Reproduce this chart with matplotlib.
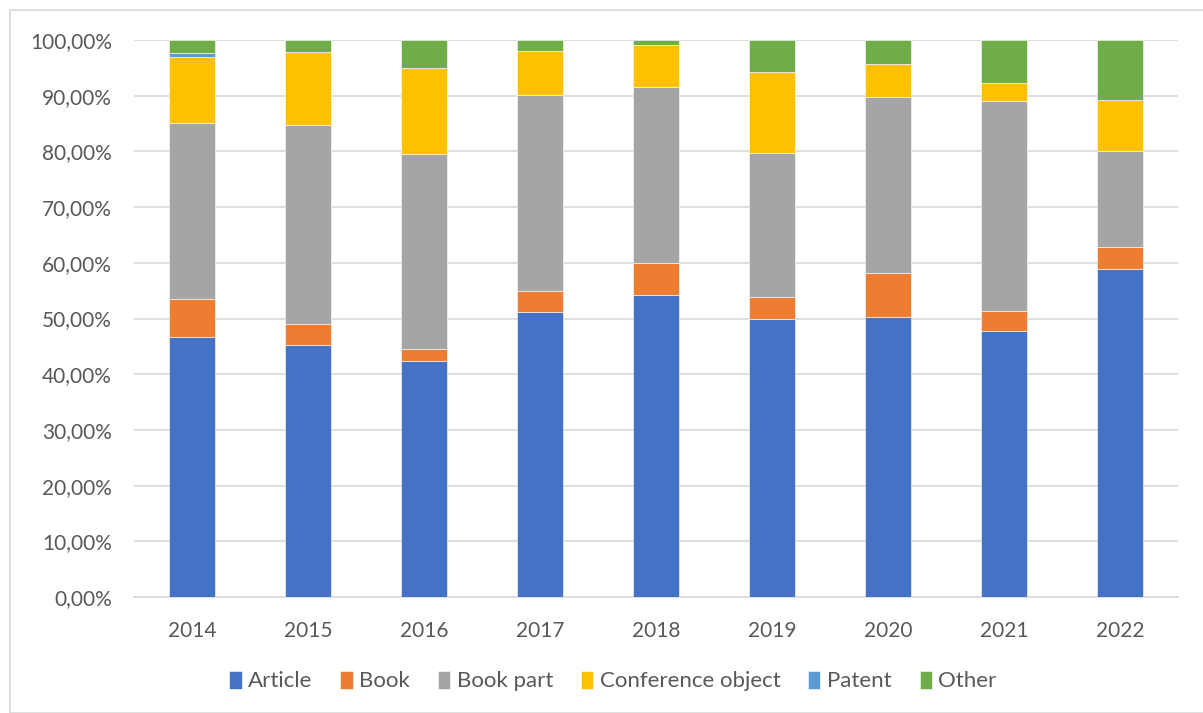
import matplotlib
matplotlib.use("Agg")
import matplotlib.pyplot as plt
from matplotlib.patches import Rectangle
from matplotlib.ticker import FuncFormatter, MultipleLocator
import numpy as np

plt.rcParams['font.family'] = ['Lato', 'DejaVu Sans']

years = ["2014", "2015", "2016", "2017", "2018", "2019", "2020", "2021", "2022"]
article = [46.6, 45.3, 42.3, 51.1, 54.3, 50.0, 50.3, 47.7, 58.9]
book = [6.9, 3.7, 2.3, 3.9, 5.7, 3.9, 7.9, 3.6, 3.9]
book_part = [31.6, 35.7, 35.0, 35.1, 31.5, 25.8, 31.5, 37.7, 17.3]
conference = [11.9, 13.2, 15.4, 8.0, 7.6, 14.5, 6.0, 3.2, 9.2]
patent = [0.7, 0.0, 0.0, 0.0, 0.0, 0.0, 0.0, 0.0, 0.0]
other = [2.3, 2.1, 5.0, 1.9, 0.9, 5.8, 4.3, 7.8, 10.7]

series = [
    ("Article", article, "#4472C4"),
    ("Book", book, "#ED7D31"),
    ("Book part", book_part, "#A5A5A5"),
    ("Conference object", conference, "#FFC000"),
    ("Patent", patent, "#5B9BD5"),
    ("Other", other, "#70AD47"),
]

W, H = 1203, 713
fig = plt.figure(figsize=(W / 100, H / 100), dpi=100)
ax = fig.add_axes([134 / W, 1 - 597 / H, (1178 - 134) / W, (597 - 40) / H])

x = np.arange(len(years))
bottom = np.zeros(len(years))
handles = []
for name, vals, col in series:
    v = np.array(vals)
    b = ax.bar(x, v, 0.4, bottom=bottom, color=col, edgecolor="white",
               linewidth=0.4, label=name, zorder=3)
    handles.append(b)
    bottom += v

ax.set_xlim(-0.5, len(years) - 0.5)
ax.set_ylim(0, 100)
ax.yaxis.set_major_locator(MultipleLocator(10))
ax.yaxis.set_major_formatter(FuncFormatter(lambda v, p: f"{v:.2f}%".replace(".", ",")))
ax.set_xticks(x)
ax.set_xticklabels(years)
ax.grid(axis="y", color="#D9D9D9", linewidth=1.2, zorder=0)
for s in ["top", "right", "left"]:
    ax.spines[s].set_visible(False)
ax.spines["bottom"].set_color("#D9D9D9")
ax.spines["bottom"].set_linewidth(1.2)
ax.tick_params(axis="both", length=0, labelsize=15, colors="#595959")
ax.tick_params(axis="y", pad=16)
ax.tick_params(axis="x", pad=17)

leg = fig.legend(handles=handles, loc="center", bbox_to_anchor=(613 / W, 1 - 681 / H),
                 ncol=6, frameon=False, fontsize=16, handlelength=0.55, handleheight=0.9,
                 handletextpad=0.3, columnspacing=1.25, labelcolor="#595959")

fig.patches.append(Rectangle((10 / W, 0), 1.2, 1 - 10 / H - 0, transform=fig.transFigure,
                             fill=False, edgecolor="#D9D9D9", linewidth=1.2))

fig.savefig("out.png", dpi=100)
